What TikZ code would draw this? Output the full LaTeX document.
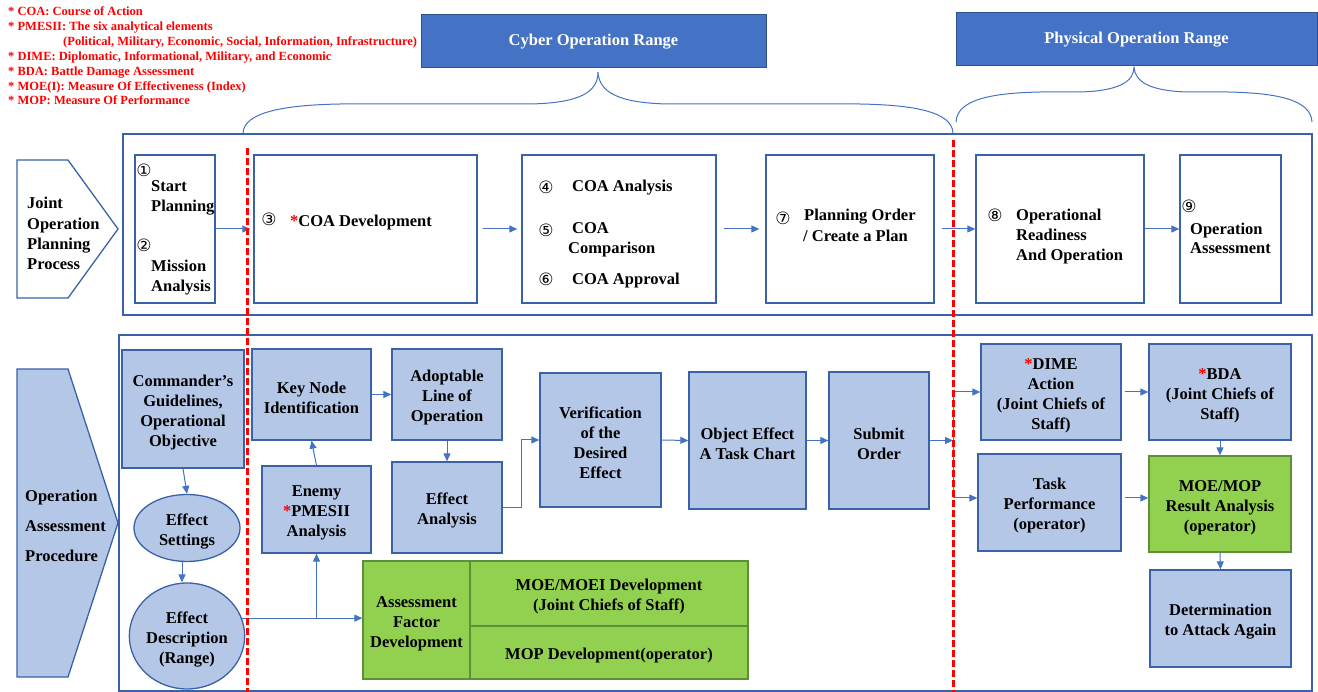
\documentclass[tikz,border=0pt]{standalone}
\usepackage{fontspec}
\setmainfont{Liberation Serif}
\newfontfamily\symf{DejaVu Sans}
\usetikzlibrary{arrows.meta,shapes.geometric}
\definecolor{hdr}{HTML}{4472C4}
\definecolor{hdrb}{HTML}{2F528F}
\definecolor{lb}{HTML}{B4C7E7}
\definecolor{bd}{HTML}{3A62A8}
\definecolor{ar}{HTML}{4472C4}
\definecolor{gr}{HTML}{92D050}
\definecolor{grb}{HTML}{5F8F3A}
\definecolor{rd}{HTML}{FF0000}
\newcommand\mystrut{\rule{0pt}{18pt}}
\newcommand\mybx[7]{\node[#2, minimum width={#5-#3}, minimum height={#6-#4}] (#1) at ({(#3+#5)/2},{(#4+#6)/2}) {#7};}
\newcommand\mytb[7]{\node[#2, minimum width={#5-#3}, minimum height={#6-#4}] (#1) at ({(#3+#5)/2},{(#4+#6)/2}) {\mystrut#7};}
\newcommand\mytl[4]{\node[txt, anchor=base west] (#1) at (#2,{#3+6}) {#4};}
\newcommand\mycn[4]{\node[num] (#1) at (#2,#3) {#4};}
\newcommand\mylg[4]{\node[leg, anchor=base west] (#1) at (#2,{#3+4}) {#4};}
\newcommand\myrs{{\color{rd}*}}
\tikzset{
  txt/.style={font=\fontsize{16.5}{20}\selectfont\bfseries, inner sep=0pt},
  num/.style={font=\symf\fontsize{17}{17}\selectfont, inner sep=0pt},
  leg/.style={font=\fontsize{12.5}{14}\selectfont\bfseries, text=rd, inner sep=0pt},
  outer/.style={draw=bd, line width=1.3pt, rectangle, inner sep=0pt},
  wbox/.style={draw=bd, fill=white, line width=1.3pt, rectangle, inner sep=0pt},
  bluebox/.style={draw=bd, fill=lb, line width=1.3pt, rectangle, align=center, inner sep=0pt, font=\fontsize{16.5}{20}\selectfont\bfseries},
  greenbox/.style={draw=grb, fill=gr, line width=1.3pt, rectangle, align=center, inner sep=0pt, font=\fontsize{16.5}{20}\selectfont\bfseries},
  blueell/.style={ellipse, draw=bd, fill=lb, line width=1.3pt, align=center, inner sep=0pt, font=\fontsize{16.5}{20}\selectfont\bfseries},
  hdrbox/.style={draw=hdrb, fill=hdr, line width=1pt, rectangle, inner sep=0pt, text=white, font=\fontsize{16.5}{20}\selectfont\bfseries},
  arr/.style={draw=ar, line width=1pt, -{Triangle[length=8pt,width=7pt]}},
  conn/.style={draw=ar, line width=1pt},
  brace/.style={draw=ar, line width=1pt},
  reddash/.style={draw=rd, line width=3pt, dash pattern=on 7pt off 3pt},
}
\begin{document}
\begin{tikzpicture}[x=1pt,y=-1pt]
\useasboundingbox (0,0) rectangle (1318,692);

% legend
\mylg{l1}{8}{12}{* COA: Course of Action}
\mylg{l2}{8}{27}{* PMESII: The six analytical elements}
\mylg{l3}{63}{42}{(Political, Military, Economic, Social, Information, Infrastructure)}
\mylg{l4}{8}{57}{* DIME: Diplomatic, Informational, Military, and Economic}
\mylg{l5}{8}{72}{* BDA: Battle Damage Assessment}
\mylg{l6}{8}{87}{* MOE(I): Measure Of Effectiveness (Index)}
\mylg{l7}{8}{101}{* MOP: Measure Of Performance}

% headers
\mybx{cyber}{hdrbox}{421}{15}{766}{68}{Cyber Operation Range}
\mybx{phys}{hdrbox}{956}{13}{1317}{66}{Physical Operation Range}

% braces
\draw[brace] (243,133) .. controls (244,112) and (285,105) .. (340,104) -- (530,104)
  .. controls (580,103) and (598,92) .. (598,72)
  .. controls (599,92) and (618,103) .. (668,104) -- (860,104)
  .. controls (915,105) and (952,112) .. (953,133);
\draw[brace] (956,122) .. controls (957,100) and (990,93) .. (1040,92) -- (1080,92)
  .. controls (1118,91) and (1134,82) .. (1134,67)
  .. controls (1135,82) and (1150,91) .. (1188,92) -- (1228,92)
  .. controls (1278,93) and (1311,100) .. (1312,122);

% outer frames
\mybx{top}{outer}{123}{134}{1312}{315}{}
\mybx{bot}{outer}{119}{335}{1312}{691}{}

% chevrons
\draw[draw=bd, fill=white, line width=1.3pt] (17,160) -- (68,160) -- (118,229) -- (68,298) -- (17,298) -- cycle;
\mytl{jc1}{27}{203}{Joint}
\mytl{jc2}{27}{224}{Operation}
\mytl{jc3}{27}{244}{Planning}
\mytl{jc4}{27}{264}{Process}
\draw[draw=bd, fill=lb, line width=1.3pt] (17,369) -- (68,369) -- (118,523) -- (68,677) -- (17,677) -- cycle;
\mytl{oc1}{25}{495}{Operation}
\mytl{oc2}{25}{525}{Assessment}
\mytl{oc3}{25}{555}{Procedure}

% upper process boxes
\mybx{s12}{wbox}{135}{155}{215}{303}{}
\mybx{s3}{wbox}{254}{155}{477}{303}{}
\mybx{s46}{wbox}{522}{155}{716}{303}{}
\mybx{s7}{wbox}{766}{155}{934}{303}{}
\mybx{s8}{wbox}{976}{155}{1144}{303}{}
\mybx{s9}{wbox}{1180}{155}{1281}{303}{}

\mycn{n1}{144}{170}{①}
\mytl{t1a}{151}{186}{Start}
\mytl{t1b}{151}{206}{Planning}
\mycn{n2}{144}{245}{②}
\mytl{t2a}{151}{266}{Mission}
\mytl{t2b}{151}{286}{Analysis}
\mycn{n3}{269}{219}{③}
\mytl{t3}{290}{221}{\myrs COA Development}
\mycn{n4}{546}{187}{④}
\mytl{t4}{572}{186}{COA Analysis}
\mycn{n5}{546}{230}{⑤}
\mytl{t5a}{572}{228}{COA}
\mytl{t5b}{568}{248}{Comparison}
\mycn{n6}{546}{279}{⑥}
\mytl{t6}{572}{279}{COA Approval}
\mycn{n7}{783}{218}{⑦}
\mytl{t7a}{804}{215}{Planning Order}
\mytl{t7b}{803}{236}{/ Create a Plan}
\mycn{n8}{995}{215}{⑧}
\mytl{t8a}{1016}{215}{Operational}
\mytl{t8b}{1016}{235}{Readiness}
\mytl{t8c}{1016}{255}{And Operation}
\mycn{n9}{1189}{206}{⑨}
\mytl{t9a}{1190}{229}{Operation}
\mytl{t9b}{1190}{248}{Assessment}

\draw[arr, shorten >=3pt] (s12.east) -- (s3.west);
\draw[arr, shorten <=5pt, shorten >=4pt] (s3.east) -- (s46.west);
\draw[arr, shorten <=7pt, shorten >=6pt] (s46.east) -- (s7.west);
\draw[arr, shorten <=7pt] (s7.east) -- (s8.west);
\draw[arr] (s8.east) -- (s9.west);

% lower boxes
\mytb{cmd}{bluebox}{122}{350}{244}{468}{Commander’s\\Guidelines,\\Operational\\Objective}
\node[blueell, minimum width=106, minimum height=67] (set) at (187,528) {\mystrut Effect\\Settings};
\node[blueell, minimum width=106, minimum height=106] (desc) at (187,636) {\mystrut Effect\\Description\\(Range)};
\mytb{key}{bluebox}{252}{349}{371}{440}{Key Node\\Identification}
\mytb{adopt}{bluebox}{392}{349}{502}{440}{Adoptable\\Line of\\Operation}
\mytb{enemy}{bluebox}{262}{466}{371}{553}{Enemy\\\myrs PMESII\\Analysis}
\mytb{effan}{bluebox}{392}{462}{502}{553}{Effect\\Analysis}
\mytb{verif}{bluebox}{540}{373}{661}{507}{Verification\\of the\\Desired\\Effect}
\mytb{obj}{bluebox}{689}{372}{806}{509}{Object Effect\\A Task Chart}
\mytb{sub}{bluebox}{829}{372}{929}{509}{Submit\\Order}
\mytb{dime}{bluebox}{981}{344}{1121}{440}{\myrs DIME\\Action\\(Joint Chiefs of\\Staff)}
\mytb{bda}{bluebox}{1149}{344}{1291}{440}{\myrs BDA\\(Joint Chiefs of\\Staff)}
\mytb{task}{bluebox}{978}{454}{1121}{551}{Task\\Performance\\(operator)}
\mytb{res}{greenbox}{1149}{456}{1291}{552}{MOE/MOP\\Result Analysis\\(operator)}
\mytb{det}{bluebox}{1150}{570}{1291}{667}{Determination\\to Attack Again}
\mytb{asf}{greenbox}{363}{561}{470}{679}{Assessment\\Factor\\Development}
\mytb{moei}{greenbox}{470}{561}{748}{626}{MOE/MOEI Development\\(Joint Chiefs of Staff)}
\mytb{mop}{greenbox}{470}{626}{748}{679}{MOP Development(operator)}

% lower connectors
\draw[arr] (cmd.south) -- (set.north);
\draw[arr] ([xshift=-5pt]set.south) -- ([xshift=-5pt]desc.north);
\draw[arr] (desc.18.7) -- (desc.18.7 -| asf.west);
\draw[arr] (enemy.south |- desc.18.7) -- (enemy.south);
\draw[arr] (enemy.north) -- (key.south);
\draw[arr] (key.east) -- (adopt.west);
\draw[arr] (adopt.south) -- (effan.north);
\draw[arr] (effan.east) -- ++(19,0) |- (verif.west);
\draw[arr] (verif.east) -- (obj.west);
\draw[arr] (obj.east) -- (sub.west);
\coordinate (sp) at (953,440.5);
\coordinate (jt) at (953,392);
\coordinate (jb) at (953,498);
\draw[arr] (sub.east) -- (sp);
\draw[conn] (jt) -- (jb);
\draw[arr] (jt) -- (jt -| dime.west);
\draw[arr] (jb) -- (jb -| task.west);
\draw[arr, shorten <=3pt] (dime.east) -- (bda.west);
\draw[arr, shorten <=3pt] (task.east |- jb) -- (res.west |- jb);
\draw[arr] (bda.south) -- (res.north);
\draw[arr] (res.south) -- (det.north);

% red dashed separators
\draw[reddash] (247,148) -- (247,692);
\draw[reddash] (953,140) -- (953,692);
\end{tikzpicture}
\end{document}
